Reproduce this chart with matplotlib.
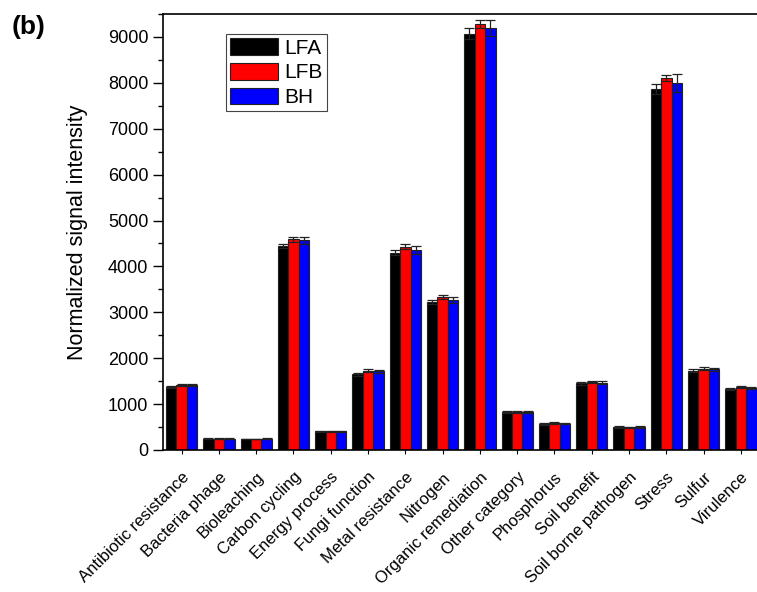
import numpy as np
import matplotlib
matplotlib.use("Agg")
import matplotlib.pyplot as plt
from matplotlib.ticker import MultipleLocator

plt.rcParams['font.family'] = ['Liberation Sans', 'DejaVu Sans']

# categories and normalized signal intensities
categories = ['Antibiotic resistance', 'Bacteria phage', 'Bioleaching', 'Carbon cycling',
              'Energy process', 'Fungi function', 'Metal resistance', 'Nitrogen',
              'Organic remediation', 'Other category', 'Phosphorus', 'Soil benefit',
              'Soil borne pathogen', 'Stress', 'Sulfur', 'Virulence']

lfa = [1380, 245, 240, 4440, 410, 1650, 4300, 3220, 9070, 820, 570, 1450, 500, 7860, 1730, 1330]
lfb = [1420, 250, 240, 4590, 410, 1730, 4430, 3330, 9280, 830, 585, 1480, 495, 8110, 1770, 1370]
bh  = [1410, 245, 245, 4570, 405, 1710, 4360, 3270, 9190, 825, 575, 1470, 500, 8000, 1760, 1350]

lfa_err = [20, 10, 10, 50, 10, 30, 50, 40, 120, 20, 15, 25, 15, 110, 25, 25]
lfb_err = [25, 10, 10, 60, 10, 30, 60, 50, 90, 20, 15, 25, 15, 70, 30, 25]
bh_err  = [20, 10, 10, 80, 10, 40, 90, 60, 180, 20, 15, 30, 15, 200, 30, 30]

series = [('LFA', lfa, lfa_err, 'black'),
          ('LFB', lfb, lfb_err, 'red'),
          ('BH',  bh,  bh_err,  'blue')]

fig = plt.figure(figsize=(7.57, 5.92), dpi=100)
# right spine falls just outside the figure, as in the original crop
ax = fig.add_axes([0.2153, 0.2399, 0.7881, 0.7365])

x = np.arange(len(categories))
width = 0.28

for k, (name, vals, errs, col) in enumerate(series):
    ax.bar(x + (k - 1) * width, vals, width, color=col, edgecolor='#222222',
           linewidth=0.8, label=name,
           yerr=errs, capsize=3.5,
           error_kw=dict(ecolor='#222222', elinewidth=0.9, capthick=0.9))

ax.set_xlim(-0.5, 15.5)
ax.set_ylim(0, 9500)
ax.yaxis.set_major_locator(MultipleLocator(1000))
ax.yaxis.set_minor_locator(MultipleLocator(500))

ax.set_xticks(x)
ax.set_xticklabels(categories, rotation=45, ha='right', rotation_mode='anchor',
                   fontsize=12)
ax.tick_params(axis='y', labelsize=13, length=7, width=1)
ax.tick_params(axis='y', which='minor', length=3.5, width=1)
ax.tick_params(axis='x', length=3, width=0.8, pad=11)

for side in ['left', 'bottom', 'top']:
    ax.spines[side].set_linewidth(1.2)

ax.set_ylabel('Normalized signal intensity', fontsize=15.5, labelpad=14)

leg = ax.legend(loc='upper left', bbox_to_anchor=(0.106, 0.954), borderaxespad=0,
                fontsize=15, handlelength=2.3, handleheight=0.85, labelspacing=0.25,
                handletextpad=0.3, borderpad=0.2, fancybox=False, framealpha=1)
leg.get_frame().set_edgecolor('#444444')
leg.get_frame().set_linewidth(0.8)

fig.text(0.015, 0.975, '(b)', fontsize=19, fontweight='bold', va='top', ha='left')

fig.savefig('out.png', dpi=100)
